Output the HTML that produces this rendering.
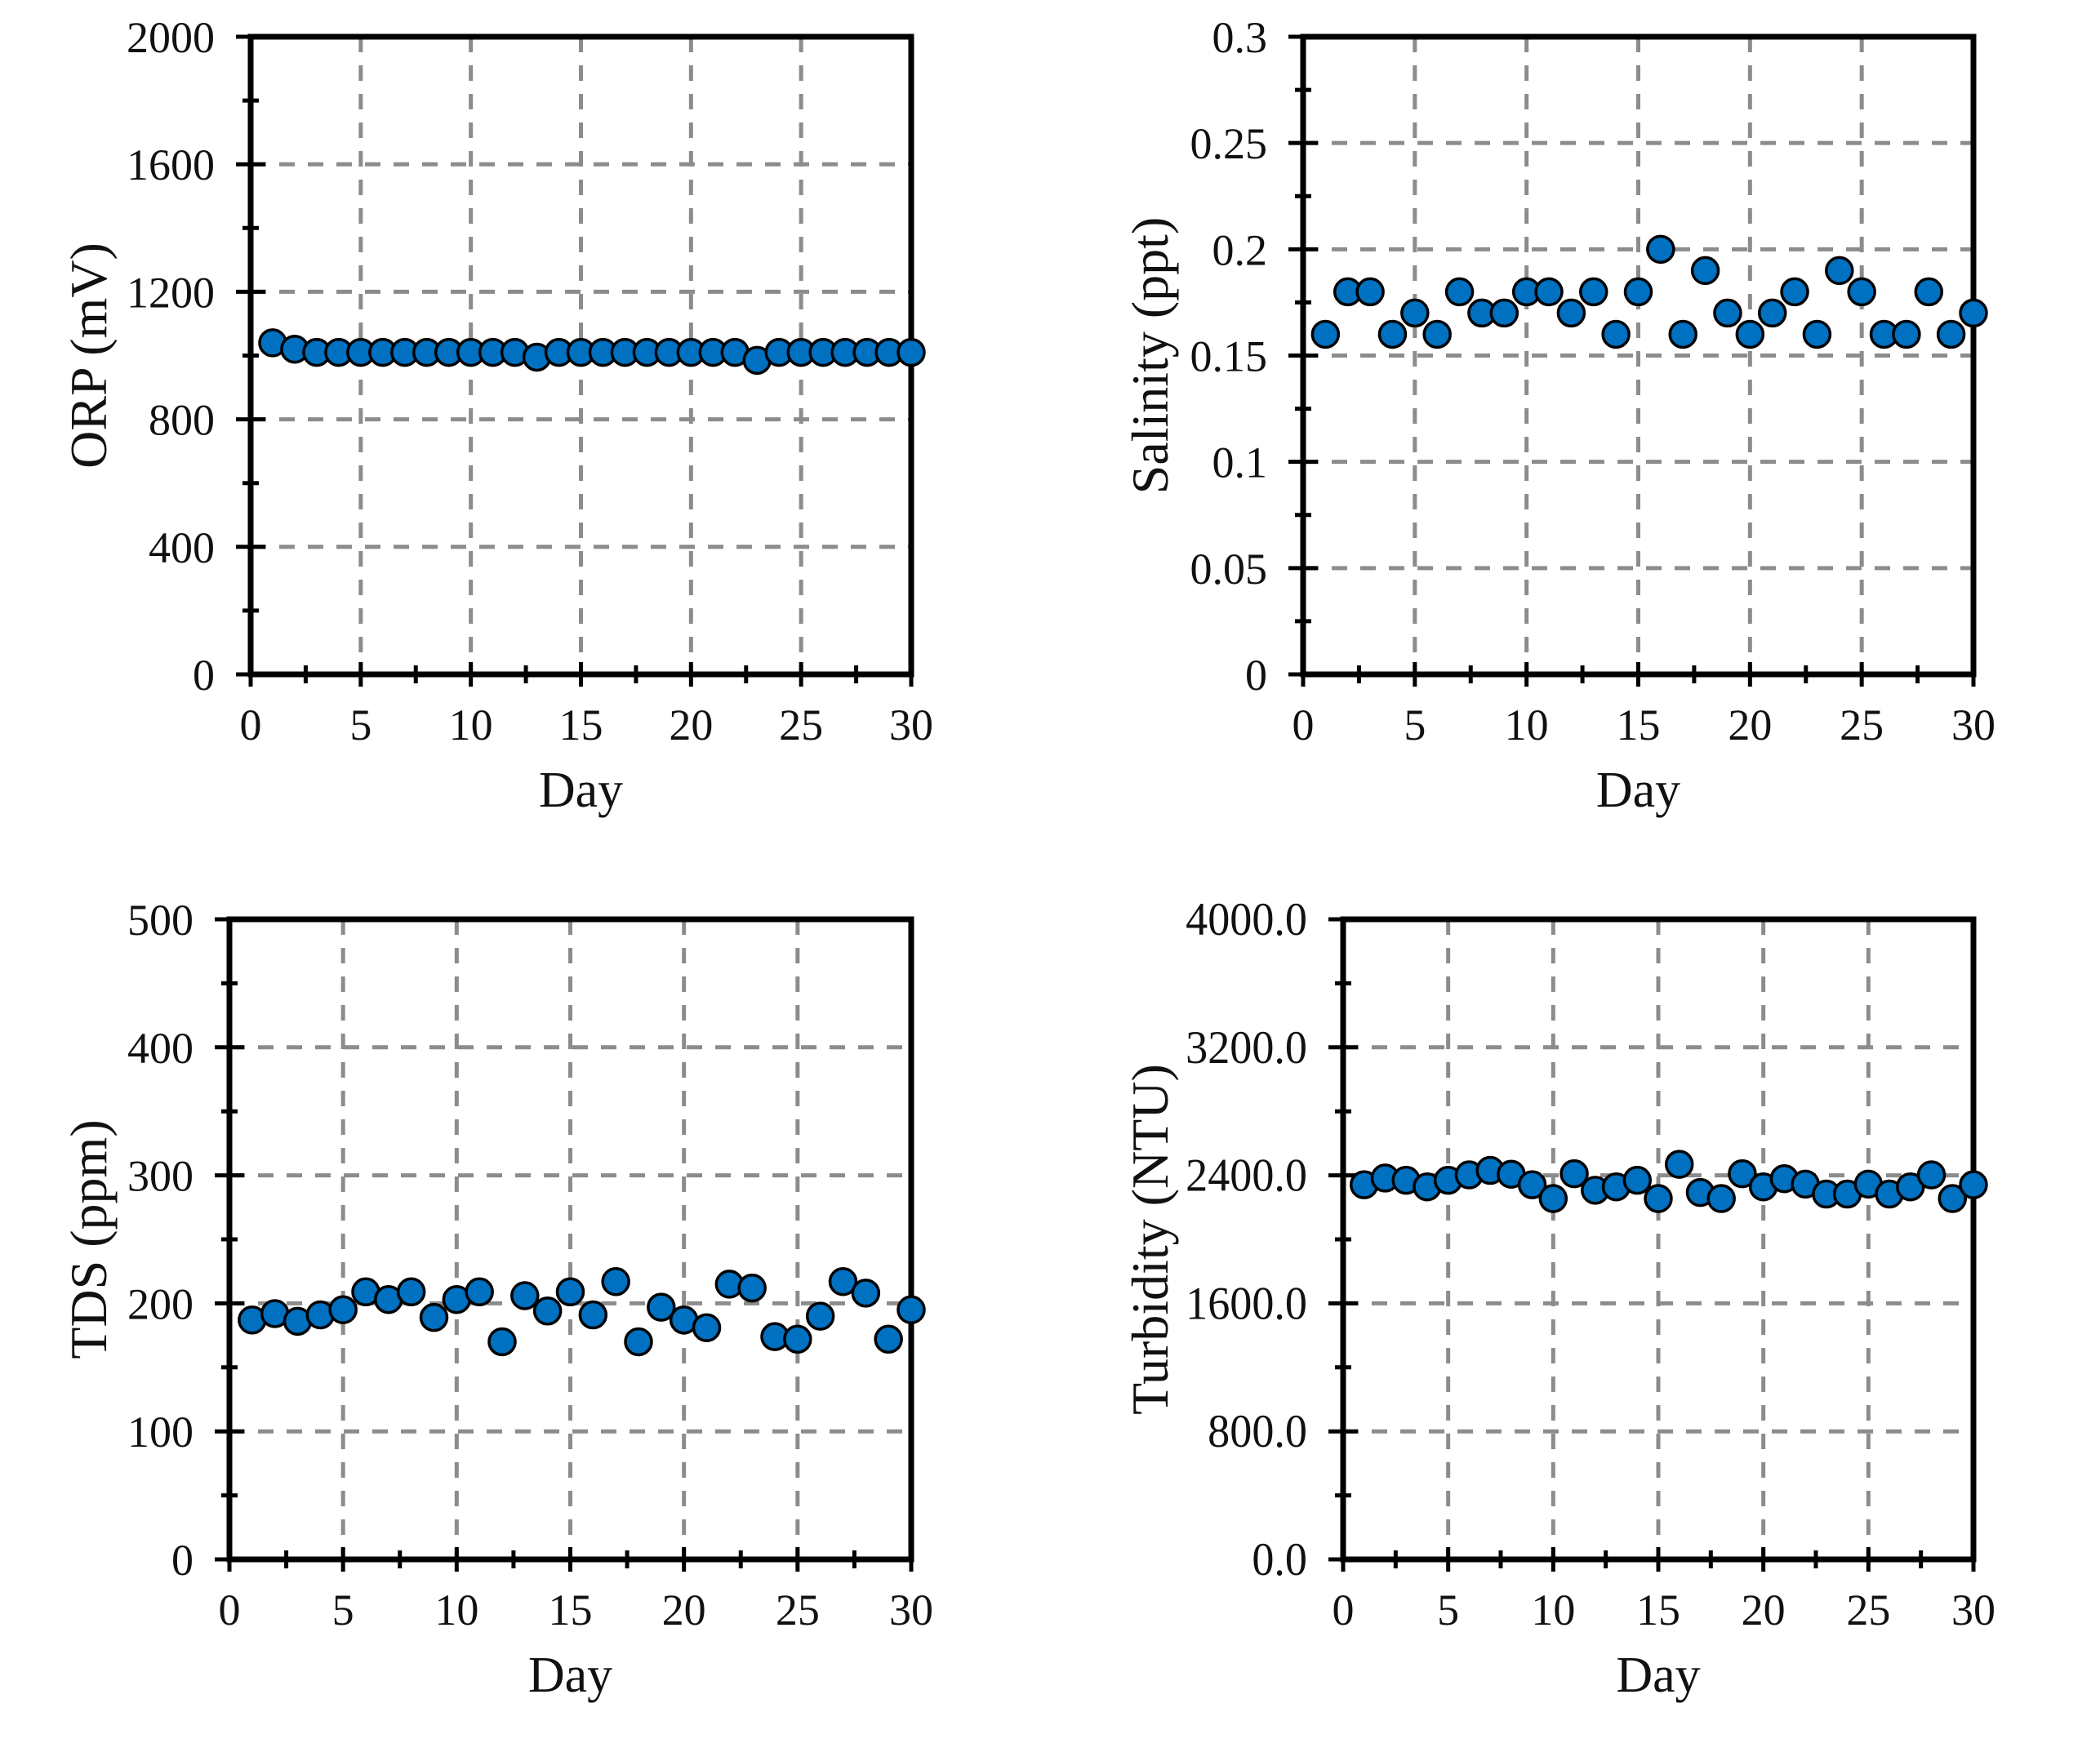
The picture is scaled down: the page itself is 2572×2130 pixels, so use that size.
<!DOCTYPE html>
<html><head><meta charset="utf-8"><style>
html,body{margin:0;padding:0;background:#fff;}
svg{display:block;}
text{font-family:"Liberation Serif",serif;fill:#111;}
</style></head><body>
<svg id="fig" width="2572" height="2130" viewBox="0 0 2572 2130" xmlns="http://www.w3.org/2000/svg"></svg>
<script>
const days = [1,2,3,4,5,6,7,8,9,10,11,12,13,14,15,16,17,18,19,20,21,22,23,24,25,26,27,28,29,30];
const orpValues = [1040,1020,1010,1010,1010,1010,1010,1010,1010,1010,1010,1010,995,1010,1010,1010,1010,1010,1010,1010,1010,1010,985,1010,1010,1010,1010,1010,1010,1010];
const salinityValues = [0.16,0.18,0.18,0.16,0.17,0.16,0.18,0.17,0.17,0.18,0.18,0.17,0.18,0.16,0.18,0.20,0.16,0.19,0.17,0.16,0.17,0.18,0.16,0.19,0.18,0.16,0.16,0.18,0.16,0.17];
const tdsValues = [187,192,186,191,195,209,203,209,189,203,209,170,206,194,209,191,217,170,197,187,181,215,212,174,172,190,217,208,172,195];
const turbidityValues = [2341,2383,2369,2328,2369,2403,2431,2407,2341,2255,2410,2307,2328,2369,2255,2469,2293,2255,2410,2328,2379,2345,2283,2283,2345,2283,2328,2403,2255,2341];
const xTicks = [0,5,10,15,20,25,30];
const orpTicks = ["0","400","800","1200","1600","2000"];
const salTicks = ["0","0.05","0.1","0.15","0.2","0.25","0.3"];
const tdsTicks = ["0","100","200","300","400","500"];
const turbTicks = ["0.0","800.0","1600.0","2400.0","3200.0","4000.0"];

const NS="http://www.w3.org/2000/svg";
const svg=document.getElementById('fig');
function mk(tag,attrs,parent){const e=document.createElementNS(NS,tag);for(const k in attrs)e.setAttribute(k,attrs[k]);(parent||svg).appendChild(e);return e;}

function chart(cfg){
  const g=mk('g',{});
  
  
  const {L,R,T,B,ymax,yTicks,vals,title,key,condensed}=cfg;
  const xs=v=>L+(v/30)*(R-L);
  const ys=v=>B-(v/ymax)*(B-T);
  const nT=yTicks.length-1;
  const dash='19,16';
  for(let i=1;i<nT;i++){
    const y=ys(ymax*i/nT);
    const l=mk('line',{x1:L,x2:R,y1:y,y2:y,stroke:'#8c8c8c','stroke-width':5,'stroke-dasharray':dash},g);
    
    
  }
  for(const t of xTicks){
    if(t===0||t===30)continue;
    const x=xs(t);
    const l=mk('line',{x1:x,x2:x,y1:T,y2:B,stroke:'#8c8c8c','stroke-width':5,'stroke-dasharray':dash},g);
    
    
  }
  for(let i=0;i<=nT*2;i++){
    const y=ys(ymax*i/(nT*2));
    const major=i%2===0;
    const t=mk('line',{x1:major?L-18:L-10,x2:major?L+18:L+10,y1:y,y2:y,stroke:'#000','stroke-width':5},g);
    
    
  }
  for(let d=0;d<=30;d+=2.5){
    const x=xs(d);
    const major=d%5===0;
    const t=mk('line',{x1:x,x2:x,y1:major?B-15:B-11,y2:major?B+15:B+11,stroke:'#000','stroke-width':5},g);
    
    
  }
  const f=mk('rect',{x:L,y:T,width:R-L,height:B-T,fill:'none',stroke:'#000','stroke-width':7},g);
  
  
  yTicks.forEach((lab,i)=>{
    const y=ys(ymax*i/nT);
    const t=mk('text',{x:L-44,y:y+19,'font-size':condensed?57:54,'text-anchor':'end'},g);
    if(condensed){t.setAttribute('transform',`translate(${L-44},0) scale(0.95,1) translate(${-(L-44)},0)`);}
    t.textContent=lab;
    
    
  });
  xTicks.forEach(v=>{
    const t=mk('text',{x:xs(v),y:B+80,'font-size':54,'text-anchor':'middle'},g);
    t.textContent=v;
    
    
  });
  const xt=mk('text',{x:(L+R)/2,y:B+162,'font-size':62,'text-anchor':'middle'},g);
  xt.textContent='Day';
  
  
  const cy=(T+B)/2;
  const yt=mk('text',{x:cfg.tx,y:cy,'font-size':64,'text-anchor':'middle',transform:`rotate(-90 ${cfg.tx} ${cy})`},g);
  yt.textContent=title;
  
  
  days.forEach((d,i)=>{
    const c=mk('circle',{cx:xs(d),cy:ys(vals[i]),r:16,fill:'#0070c0',stroke:'#000','stroke-width':3.5},g);
    
    
  });
}
chart({name:'orp-chart',key:'orp',L:307,R:1116,T:45,B:826,ymax:2000,yTicks:orpTicks,vals:orpValues,title:'ORP (mV)',tx:130});
chart({name:'salinity-chart',key:'salinity',L:1596,R:2417,T:45,B:826,ymax:0.3,yTicks:salTicks,vals:salinityValues,title:'Salinity (ppt)',tx:1430});
chart({name:'tds-chart',key:'tds',L:281,R:1116,T:1126,B:1910,ymax:500,yTicks:tdsTicks,vals:tdsValues,title:'TDS (ppm)',tx:130});
chart({name:'turbidity-chart',key:'turbidity',L:1645,R:2417,T:1126,B:1910,ymax:4000,yTicks:turbTicks,vals:turbidityValues,title:'Turbidity (NTU)',tx:1430,condensed:true});
</script>
</body></html>
